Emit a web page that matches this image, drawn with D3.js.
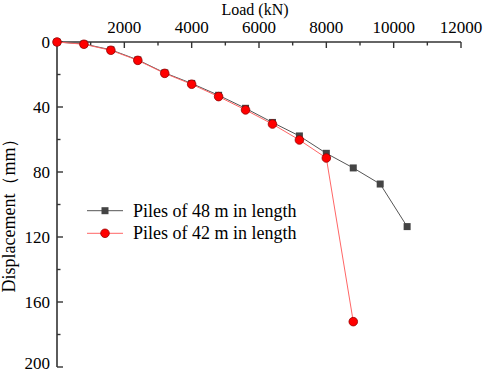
<!DOCTYPE html>
<html>
<head>
<meta charset="utf-8">
<script src="https://cdn.jsdelivr.net/npm/d3@7"></script>
<style>
  body { margin: 0; background: #fff; }
</style>
</head>
<body>
<div id="chart"></div>
<script>
let loads	= [0, 800, 1600, 2400, 3200, 4000, 4800, 5600, 6400, 7200, 8000, 8800, 9600, 10400];
let pile48	= [0, 1.2, 4.8, 11.0, 19.0, 25.5, 32.8, 40.8, 49.5, 57.8, 68.5, 77.5, 87.4, 113.6];
let pile42	= [0, 1.4, 5.1, 11.3, 19.3, 26.0, 33.6, 41.8, 50.5, 60.3, 71.4, 172.1];
let xTicks	= [2000, 4000, 6000, 8000, 10000, 12000];
let yTicks	= [0, 40, 80, 120, 160, 200];
let names	= ["Piles of 48 m in length", "Piles of 42 m in length"];

let width = 484, height = 374;
let font = "'Liberation Serif', 'DejaVu Serif', 'Times New Roman', serif";
let svg = d3.select("#chart").append("svg")
	.attr("width", width)
	.attr("height", height)
	.attr("font-family", font);

let x = d3.scaleLinear().domain([0, 12000]).range([57, 461]);
let y = d3.scaleLinear().domain([0, 200]).range([42, 367]);

// minor ticks
let xMinor = d3.range(1000, 12000, 2000);
let yMinor = d3.range(20, 200, 40);

let axisColor = "#333";

let gx = svg.append("g").attr("transform", "translate(0," + y(0) + ")");
gx.append("line").attr("x1", x(0)).attr("x2", x(12000))
	.attr("stroke", axisColor).attr("stroke-width", 1.6);
gx.selectAll(".maj").data(xTicks).enter().append("line")
	.attr("x1", (d) => x(d)).attr("x2", (d) => x(d))
	.attr("y1", 0).attr("y2", 6)
	.attr("stroke", axisColor).attr("stroke-width", 1.4);
gx.selectAll(".min").data(xMinor).enter().append("line")
	.attr("x1", (d) => x(d)).attr("x2", (d) => x(d))
	.attr("y1", 0).attr("y2", 3.5)
	.attr("stroke", axisColor).attr("stroke-width", 1.4);
gx.selectAll("text").data(xTicks).enter().append("text")
	.attr("x", (d) => x(d))
	.attr("y", -9.5)
	.attr("text-anchor", "middle")
	.attr("font-size", 17)
	.text((d) => d);

let gy = svg.append("g").attr("transform", "translate(" + x(0) + ",0)");
gy.append("line").attr("y1", y(0)).attr("y2", y(200))
	.attr("stroke", axisColor).attr("stroke-width", 1.6);
gy.selectAll(".maj").data(yTicks).enter().append("line")
	.attr("y1", (d) => y(d)).attr("y2", (d) => y(d))
	.attr("x1", 0).attr("x2", 6)
	.attr("stroke", axisColor).attr("stroke-width", 1.4);
gy.selectAll(".min").data(yMinor).enter().append("line")
	.attr("y1", (d) => y(d)).attr("y2", (d) => y(d))
	.attr("x1", 0).attr("x2", 3.5)
	.attr("stroke", axisColor).attr("stroke-width", 1.4);
gy.selectAll("text").data(yTicks).enter().append("text")
	.attr("x", -7)
	.attr("y", (d) => Math.min(y(d) + 6, 369))
	.attr("text-anchor", "end")
	.attr("font-size", 17)
	.text((d) => d);

svg.append("text")
	.attr("x", 255).attr("y", 14.5)
	.attr("text-anchor", "middle")
	.attr("font-size", 16)
	.text("Load (kN)");

svg.append("text")
	.attr("transform", "translate(15,211) rotate(-90)")
	.attr("text-anchor", "middle")
	.attr("font-size", 18)
	.text("Displacement（mm）");

let line = d3.line()
	.x((d) => x(d[0]))
	.y((d) => y(d[1]));

let data48 = loads.map((l, i) => [l, pile48[i]]);
let data42 = pile42.map((v, i) => [loads[i], v]);

svg.append("path").attr("d", line(data48))
	.attr("fill", "none").attr("stroke", "#555").attr("stroke-width", 1);
svg.append("path").attr("d", line(data42))
	.attr("fill", "none").attr("stroke", "#ff6666").attr("stroke-width", 1);

svg.selectAll(".sq").data(data48).enter().append("rect")
	.attr("x", (d) => x(d[0]) - 3.5)
	.attr("y", (d) => y(d[1]) - 3.5)
	.attr("width", 7).attr("height", 7)
	.attr("fill", "#444");

svg.selectAll(".ci").data(data42).enter().append("circle")
	.attr("cx", (d) => x(d[0]))
	.attr("cy", (d) => y(d[1]))
	.attr("r", 4.3)
	.attr("fill", "#ff0000")
	.attr("stroke", "#990000")
	.attr("stroke-width", 0.8);

// legend
let leg = svg.append("g");
let ly = [210.7, 233.3];
leg.append("line").attr("x1", 87).attr("x2", 123).attr("y1", ly[0]).attr("y2", ly[0])
	.attr("stroke", "#555").attr("stroke-width", 1);
leg.append("rect").attr("x", 105 - 3.5).attr("y", ly[0] - 3.5)
	.attr("width", 7).attr("height", 7).attr("fill", "#444");
leg.append("line").attr("x1", 87).attr("x2", 123).attr("y1", ly[1]).attr("y2", ly[1])
	.attr("stroke", "#ff6666").attr("stroke-width", 1);
leg.append("circle").attr("cx", 105).attr("cy", ly[1]).attr("r", 4.3)
	.attr("fill", "#ff0000").attr("stroke", "#990000").attr("stroke-width", 0.8);
leg.selectAll("text").data(names).enter().append("text")
	.attr("x", 133)
	.attr("y", (d, i) => ly[i] + 6)
	.attr("font-size", 18)
	.text((d) => d);
</script>
</body>
</html>
